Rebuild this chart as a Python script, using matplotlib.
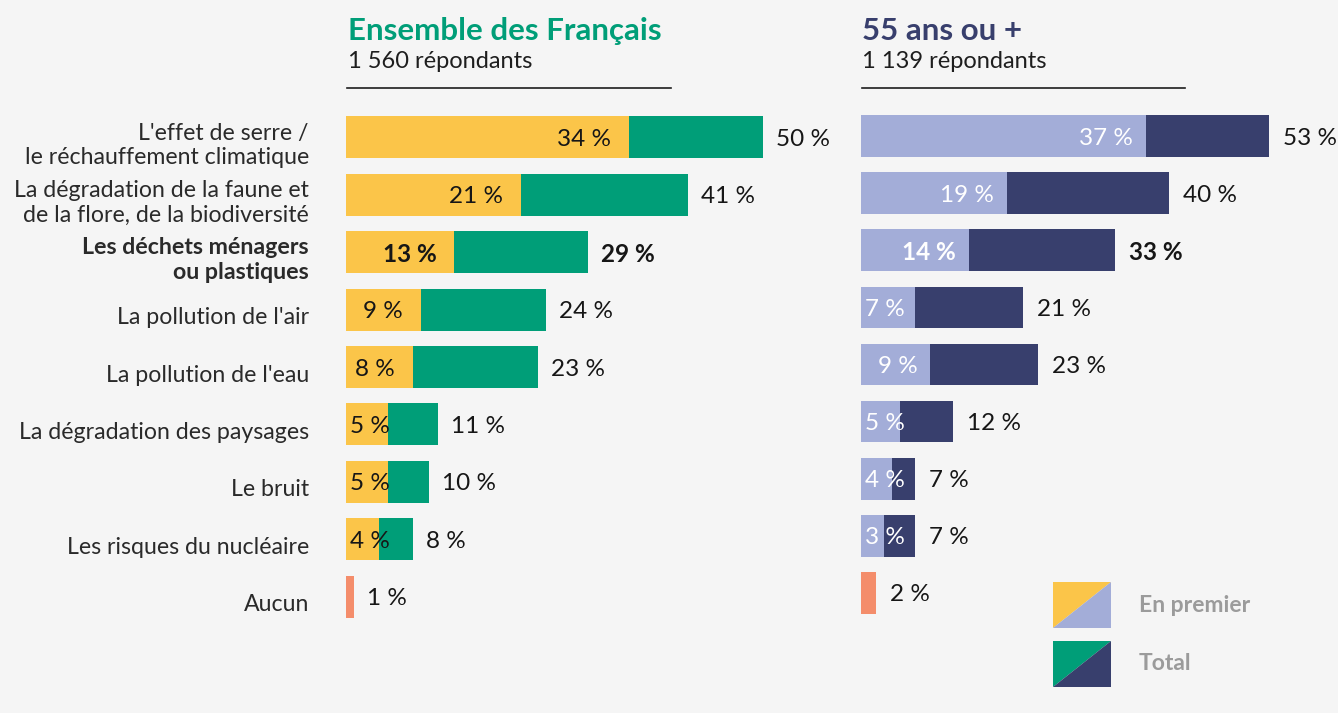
import matplotlib
matplotlib.use("Agg")
import matplotlib.pyplot as plt
from matplotlib.patches import Polygon

plt.rcParams['font.family'] = ['Lato', 'DejaVu Sans']

# data
categories = ["L'effet de serre /\nle réchauffement climatique",
              "La dégradation de la faune et\nde la flore, de la biodiversité",
              "Les déchets ménagers\nou plastiques",
              "La pollution de l'air",
              "La pollution de l'eau",
              "La dégradation des paysages",
              "Le bruit",
              "Les risques du nucléaire",
              "Aucun"]
all_first = [34, 21, 13, 9, 8, 5, 5, 4]
all_total = [50, 41, 29, 24, 23, 11, 10, 8, 1]
old_first = [37, 19, 14, 7, 9, 5, 4, 3]
old_total = [53, 40, 33, 21, 23, 12, 7, 7, 2]
bold_row = 2

BG = '#f5f5f5'
YELLOW = '#fbc549'
GREEN = '#009e78'
LILAC = '#a3add8'
NAVY = '#383f6d'
ORANGE = '#f48d6b'
GREY = '#9b9b9b'
VAL_FS = 17.5

W, H = 1338, 713
fig = plt.figure(figsize=(W / 100, H / 100), dpi=100, facecolor=BG)


def px_axes(x0, top, w, bottom):
    return fig.add_axes([x0 / W, 1 - bottom / H, w / W, (bottom - top) / H])


ax1 = px_axes(346, 108.5, 500, 625.5)
ax2 = px_axes(861, 107.5, 462, 621.5)
ov = fig.add_axes([0, 0, 1, 1], zorder=-1)
ov.set_xlim(0, W)
ov.set_ylim(H, 0)
ov.axis('off')
ov.set_facecolor(BG)

rows = list(range(len(categories)))


def draw_panel(ax, first, total, c1, c2, txt_in, pad_in, pad_out):
    ax.set_xlim(0, 60)
    ax.set_ylim(len(categories) - 0.5, -0.5)
    ax.axis('off')
    n = len(first)
    ax.barh(rows[:n], total[:n], height=0.73, color=c2)
    ax.barh(rows[:n], first, height=0.73, color=c1)
    ax.barh(rows[n:], total[n:], height=0.73, color=ORANGE)
    fig.canvas.draw()
    r = fig.canvas.get_renderer()
    for i, v in enumerate(first):
        w = 'bold' if i == bold_row else 'normal'
        t = ax.annotate(f"{v} %", (v, i), xytext=(-pad_in, -2), textcoords='offset pixels',
                        ha='right', va='center', fontsize=VAL_FS, color=txt_in, fontweight=w)
        tw = t.get_window_extent(r).width
        x0 = ax.transData.transform((0, i))[0]
        xe = ax.transData.transform((v, i))[0]
        # too short: put the label at the start of the bar
        if xe - pad_in - tw < x0 + 3:
            t.xy = (0, i)
            t.xyann = (4, -2)
            t.set_ha('left')
    for i, v in enumerate(total):
        w = 'bold' if i == bold_row else 'normal'
        ax.annotate(f"{v} %", (v, i), xytext=(pad_out, -2), textcoords='offset pixels',
                    ha='left', va='center', fontsize=VAL_FS, color='#161616', fontweight=w)


draw_panel(ax1, all_first, all_total, YELLOW, GREEN, '#161616', 18, 13)
draw_panel(ax2, old_first, old_total, LILAC, NAVY, 'white', 13, 14)

# category labels
ys = [ax1.transData.transform((0, i))[1] for i in rows]
for i, lab in enumerate(categories):
    y = H - ys[i]
    ov.text(309, y + 8, lab, ha='right', va='center', fontsize=16.7, color='#2a2a2a',
            fontweight='bold' if i == bold_row else 'normal', linespacing=1.2)

# headers
ov.text(348, 31, "Ensemble des Français", fontsize=22.5, fontweight='bold', color=GREEN,
        va='center', ha='left')
ov.text(348, 62, "1 560 répondants", fontsize=17, color='#1e1e1e', va='center', ha='left')
ov.plot([347, 671], [88, 88], color='#1e1e1e', lw=1.2)
ov.text(862, 31, "55 ans ou +", fontsize=22.5, fontweight='bold', color=NAVY,
        va='center', ha='left')
ov.text(862, 62, "1 139 répondants", fontsize=17, color='#1e1e1e', va='center', ha='left')
ov.plot([862, 1185], [88, 88], color='#1e1e1e', lw=1.2)

# legend
for (top, ca, cb, lab) in [(582, YELLOW, LILAC, "En premier"), (641, GREEN, NAVY, "Total")]:
    x0, x1, y0, y1 = 1053, 1111, top, top + 46
    ov.add_patch(Polygon([(x0, y0), (x1, y0), (x0, y1)], closed=True, color=ca, lw=0))
    ov.add_patch(Polygon([(x1, y0), (x1, y1), (x0, y1)], closed=True, color=cb, lw=0))
    ov.text(1139, (y0 + y1) / 2, lab, fontsize=16.5, fontweight='bold', color=GREY,
            va='center', ha='left')

fig.savefig('out.png', dpi=100, facecolor=BG)
